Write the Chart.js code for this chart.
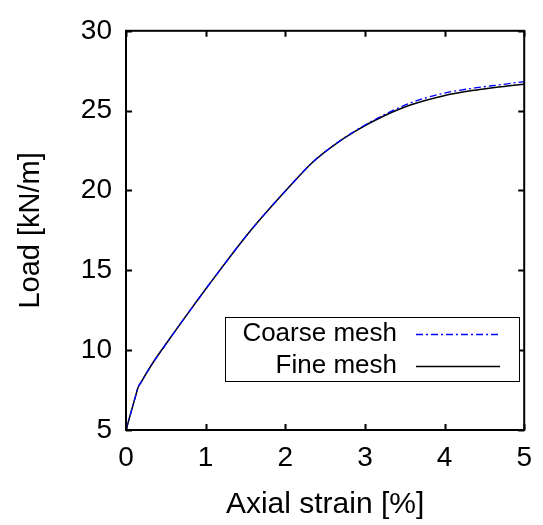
<!DOCTYPE html>
<html>
<head>
<meta charset="utf-8">
<script src="https://cdn.jsdelivr.net/npm/chart.js@4.4.1/dist/chart.umd.min.js"></script>
<style>
  body { margin: 0; background: #fff; }
  #wrap { width: 543px; height: 525px; }
</style>
</head>
<body>
<div id="wrap"><canvas id="myChart" width="543" height="525"></canvas></div>
<script>
const ctx = document.getElementById('myChart').getContext('2d');

// values
const strain = [0, 0.12, 0.15, 0.19, 0.33, 0.535, 0.8, 1.06, 1.55, 2.07, 2.35, 2.6, 2.88, 3.21, 3.57, 3.98, 4.38, 4.71, 5.0];
const fineLoad = [5.0, 7.12, 7.65, 8.0, 9.15, 10.62, 12.46, 14.22, 17.4, 20.34, 21.8, 22.8, 23.72, 24.6, 25.35, 25.92, 26.28, 26.5, 26.66];
const coarseLoad = [5.0, 7.12, 7.65, 8.0, 9.15, 10.62, 12.46, 14.22, 17.4, 20.34, 21.8, 22.8, 23.74, 24.66, 25.48, 26.08, 26.42, 26.63, 26.82];
const xTicks = [0, 1, 2, 3, 4, 5];
const yTicks = [5, 10, 15, 20, 25, 30];
const seriesNames = ['Coarse mesh', 'Fine mesh'];

const FONT = 'Liberation Sans, Arial, sans-serif';

function toPoints(xs, ys) {
  let pts = [];
  for (let i = 0; i < xs.length; i++) {
    pts.push({ x: xs[i], y: ys[i] });
  }
  return pts;
}

// frame, inward ticks and the boxed legend, gnuplot style
const framePlugin = {
  id: 'frame',
  afterDatasetsDraw(chart) {
    const c = chart.ctx;
    const a = chart.chartArea;
    const xs = chart.scales.x;
    const ys = chart.scales.y;
    const len = 6;
    c.save();
    c.strokeStyle = '#000';
    c.lineWidth = 2;
    c.strokeRect(a.left, a.top, a.right - a.left, a.bottom - a.top);
    c.beginPath();
    xTicks.forEach((v) => {
      const px = Math.round(xs.getPixelForValue(v)) + 0.5;
      c.moveTo(px, a.bottom); c.lineTo(px, a.bottom - len);
      c.moveTo(px, a.top); c.lineTo(px, a.top + len);
    });
    yTicks.forEach((v) => {
      const py = Math.round(ys.getPixelForValue(v)) + 0.5;
      c.moveTo(a.left, py); c.lineTo(a.left + len, py);
      c.moveTo(a.right, py); c.lineTo(a.right - len, py);
    });
    c.stroke();

    // legend box
    const bx = 225, by = 317, bw = 294, bh = 64;
    c.fillStyle = '#fff';
    c.fillRect(bx, by, bw, bh);
    c.lineWidth = 1;
    c.strokeRect(bx + 0.5, by + 0.5, bw, bh);
    c.font = '26px ' + FONT;
    c.textAlign = 'right';
    c.textBaseline = 'middle';
    chart.data.datasets.forEach((ds, i) => {
      const ry = by + 17 + i * 32;
      c.fillStyle = '#000';
      c.fillText(ds.label, bx + 172, ry);
      c.beginPath();
      c.strokeStyle = ds.borderColor;
      c.lineWidth = ds.borderWidth;
      c.setLineDash(ds.borderDash || []);
      c.moveTo(bx + 191, ry + 0.5);
      c.lineTo(bx + 275, ry + 0.5);
      c.stroke();
      c.setLineDash([]);
    });
    c.restore();
  },
};

const myChart = new Chart(ctx, {
  type: 'line',
  data: {
    datasets: [
      {
        label: seriesNames[0],
        data: toPoints(strain, coarseLoad),
        borderColor: '#0000ff',
        borderWidth: 1.3,
        borderDash: [7, 3, 2, 3],
        pointRadius: 0,
        cubicInterpolationMode: 'monotone',
      },
      {
        label: seriesNames[1],
        data: toPoints(strain, fineLoad),
        borderColor: '#000000',
        borderWidth: 1.5,
        pointRadius: 0,
        cubicInterpolationMode: 'monotone',
      },
    ],
  },
  options: {
    responsive: false,
    animation: false,
    events: [],
    layout: { padding: { top: 22, right: 8, left: 0, bottom: 0 } },
    plugins: { legend: { display: false }, tooltip: { enabled: false } },
    scales: {
      x: {
        type: 'linear',
        min: 0,
        max: 5,
        afterFit: (s) => { s.height = 95; },
        afterBuildTicks: (s) => { s.ticks = xTicks.map((v) => ({ value: v })); },
        grid: { display: false, drawTicks: false },
        border: { display: false },
        ticks: { color: '#000', font: { family: FONT, size: 28 }, padding: 11, maxRotation: 0 },
        title: { display: true, text: 'Axial strain [%]', color: '#000', font: { family: FONT, size: 30 }, padding: { top: 0, bottom: 2 } },
      },
      y: {
        type: 'linear',
        min: 5,
        max: 30,
        afterFit: (s) => { s.width = 126; },
        afterBuildTicks: (s) => { s.ticks = yTicks.map((v) => ({ value: v })); },
        grid: { display: false, drawTicks: false },
        border: { display: false },
        ticks: { color: '#000', font: { family: FONT, size: 28 }, padding: 14 },
        title: { display: true, text: 'Load [kN/m]', color: '#000', font: { family: FONT, size: 29 }, padding: { top: 14, bottom: 0 } },
      },
    },
  },
  plugins: [framePlugin],
});
</script>
</body>
</html>
